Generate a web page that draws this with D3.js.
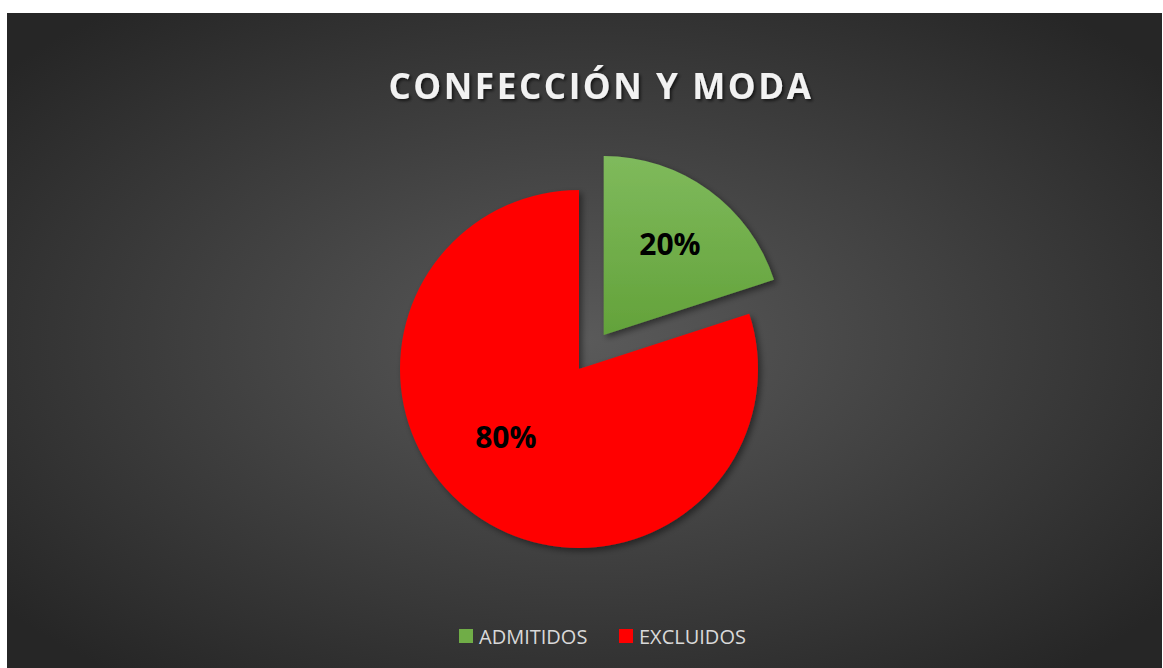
<!DOCTYPE html>
<html>
<head>
<meta charset="utf-8">
<script src="https://cdn.jsdelivr.net/npm/d3@7"></script>
<style>
  body { margin: 0; background: #fff; }
  svg { display: block; }
</style>
</head>
<body>
<svg id="chart" width="1163" height="668"></svg>
<script>
var title = "CONFECCIÓN Y MODA";
var categories = ["ADMITIDOS", "EXCLUIDOS"];
var values = [20, 80];
var colors = ["#70ad47", "#ff0000"];

var svg = d3.select("#chart");
var W = 1163, H = 668;
var defs = svg.append("defs");

// background gradient
var bg = defs.append("radialGradient").attr("id", "bg")
  .attr("cx", "50%").attr("cy", "50%").attr("r", "65%");
bg.append("stop").attr("offset", "0%").attr("stop-color", "#5a5a5a");
bg.append("stop").attr("offset", "100%").attr("stop-color", "#262626");

var gg = defs.append("linearGradient").attr("id", "green")
  .attr("x1", 0).attr("y1", 0).attr("x2", 0).attr("y2", 1);
gg.append("stop").attr("offset", "0%").attr("stop-color", "#7fba5c");
gg.append("stop").attr("offset", "100%").attr("stop-color", "#63a23a");

var sh = defs.append("filter").attr("id", "shadow")
  .attr("x", "-20%").attr("y", "-20%").attr("width", "140%").attr("height", "140%");
sh.append("feDropShadow").attr("dx", 3).attr("dy", 3).attr("stdDeviation", 3)
  .attr("flood-color", "#000").attr("flood-opacity", 0.45);

var tsh = defs.append("filter").attr("id", "tshadow")
  .attr("x", "-10%").attr("y", "-30%").attr("width", "120%").attr("height", "160%");
tsh.append("feDropShadow").attr("dx", 2).attr("dy", 2).attr("stdDeviation", 1.5)
  .attr("flood-color", "#000").attr("flood-opacity", 0.6);

svg.append("rect").attr("x", 7).attr("y", 13).attr("width", W - 8).attr("height", H - 13)
  .attr("fill", "url(#bg)");

svg.append("text")
  .attr("x", 601).attr("y", 99)
  .attr("text-anchor", "middle")
  .attr("font-family", "'Open Sans', sans-serif")
  .attr("font-weight", "bold")
  .attr("font-size", 35)
  .attr("letter-spacing", 2.6)
  .attr("fill", "#f2f2f2")
  .attr("filter", "url(#tshadow)")
  .text(title);

// pie
var cx = 579, cy = 369, R = 179, explode = 42;
var data = categories.map(function(c, i) { return { name: c, value: values[i], i: i }; });
var pie = d3.pie().sort(null).value(function(d) { return d.value; });
var arc = d3.arc().innerRadius(0).outerRadius(R);
var arcs = pie(data);

var g = svg.append("g").attr("transform", "translate(" + cx + "," + cy + ")");

var slices = g.selectAll("g.slice").data(arcs).enter().append("g")
  .attr("class", "slice")
  .attr("transform", function(d) {
    if (d.index !== 0) return null;
    var a = (d.startAngle + d.endAngle) / 2;
    return "translate(" + (Math.sin(a) * explode) + "," + (-Math.cos(a) * explode) + ")";
  });

slices.append("path")
  .attr("d", arc)
  .attr("fill", function(d) { return d.index === 0 ? "url(#green)" : colors[d.index]; })
  .attr("filter", "url(#shadow)");

// label placement (fraction of radius, angle shift) as Excel puts them
slices.append("text")
  .attr("transform", function(d) {
    var k = d.index === 0 ? 0.63 : 0.56;
    var a = (d.startAngle + d.endAngle) / 2 + (d.index === 0 ? 0 : 0.19);
    return "translate(" + (Math.sin(a) * R * k) + "," + (-Math.cos(a) * R * k) + ")";
  })
  .attr("text-anchor", "middle")
  .attr("dy", "0.36em")
  .attr("font-family", "'Open Sans', sans-serif")
  .attr("font-weight", "bold")
  .attr("font-size", 30)
  .attr("fill", "#000")
  .text(function(d) { return d.data.value + "%"; });

// legend
var legendX = [459, 619];
var leg = svg.append("g").selectAll("g").data(data).enter().append("g")
  .attr("transform", function(d, i) { return "translate(" + legendX[i] + ",629)"; });
leg.append("rect").attr("width", 14).attr("height", 14)
  .attr("fill", function(d, i) { return colors[i]; });
leg.append("text").attr("x", 20).attr("y", 14.5)
  .attr("font-family", "'Open Sans', sans-serif")
  .attr("font-size", 20)
  .attr("fill", "#d9d9d9")
  .text(function(d) { return d.name; });
</script>
</body>
</html>
